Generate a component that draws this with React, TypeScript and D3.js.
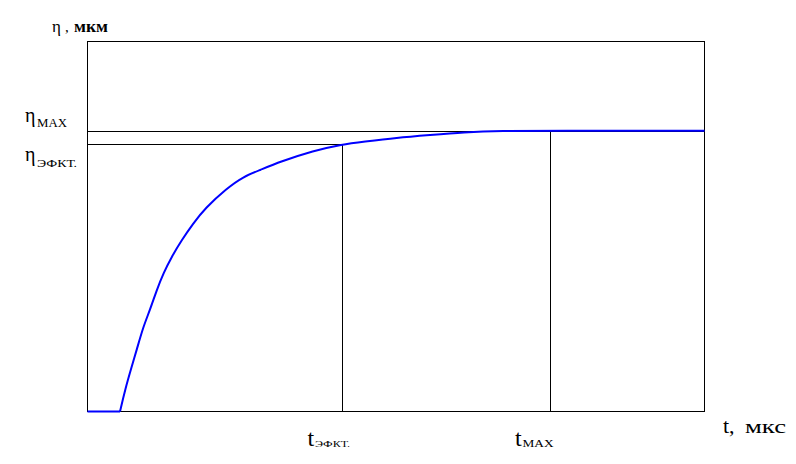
import React from "react";
import * as d3 from "d3";

// curve: t (arb. units 0..10), eta (arb. units 0..10)
const tValues = [0, 0.527, 0.608, 0.716, 0.797, 0.904, 1.013, 1.122, 1.229, 1.365, 1.527, 1.715, 1.904, 2.256, 2.525, 2.796, 3.12, 3.66, 4.13, 4.47, 5.011, 5.551, 6.091, 6.713, 7.496, 10];
const etaValues = [0, 0, 0.581, 1.211, 1.662, 2.292, 2.743, 3.284, 3.735, 4.184, 4.635, 5.086, 5.492, 6.032, 6.346, 6.527, 6.751, 7.049, 7.222, 7.292, 7.4, 7.473, 7.546, 7.585, 7.585, 7.585];

const tMarks = [4.133, 7.496];
const tMarkLabels = ["ЭФКТ.", "MAX"];
const etaMarks = [7.568, 7.216];
const etaMarkLabels = ["MAX", "ЭФКТ."];

const W = 796;
const H = 464;
const FONT = "'Liberation Serif', 'Times New Roman', serif";

export default function App() {
  const x = d3.scaleLinear().domain([0, 10]).range([87.5, 704.5]);
  const y = d3.scaleLinear().domain([0, 10]).range([411.5, 41.5]);

  const pts: [number, number][] = tValues.map((t, i) => [t, etaValues[i]]);
  const lineFlat = d3
    .line<[number, number]>()
    .x((d) => x(d[0]))
    .y((d) => y(d[1]));
  // basis smooths out the small reading errors in the points
  const lineRise = d3
    .line<[number, number]>()
    .x((d) => x(d[0]))
    .y((d) => y(d[1]))
    .curve(d3.curveBasis);

  // height of the curve at a given t (for the drop lines)
  const etaAt = (t: number) => {
    const i = d3.bisectLeft(tValues, t);
    if (i <= 0) return etaValues[0];
    const t0 = tValues[i - 1], t1 = tValues[i];
    const k = (t - t0) / (t1 - t0);
    return etaValues[i - 1] + k * (etaValues[i] - etaValues[i - 1]);
  };

  const px = (v: number) => Math.round(v - 0.5) + 0.5;

  return (
    <svg
      width={W}
      height={H}
      style={{ position: "absolute", left: 0, top: 0, background: "#fff" }}
      fontFamily={FONT}
    >
      {/* frame */}
      <rect
        x={x(0)}
        y={y(10)}
        width={x(10) - x(0)}
        height={y(0) - y(10)}
        fill="none"
        stroke="#000"
        strokeWidth={1}
      />

      {/* eta reference lines */}
      <line x1={x(0)} x2={x(10)} y1={px(y(etaMarks[0]))} y2={px(y(etaMarks[0]))} stroke="#000" />
      <line x1={x(0)} x2={x(tMarks[0])} y1={px(y(etaMarks[1]))} y2={px(y(etaMarks[1]))} stroke="#000" />

      {/* t drop lines */}
      {tMarks.map((t) => (
        <line
          key={t}
          x1={px(x(t))}
          x2={px(x(t))}
          y1={y(0)}
          y2={y(etaAt(t))}
          stroke="#000"
        />
      ))}

      {/* curve: flat start, then the rise */}
      <path d={lineFlat(pts.slice(0, 2)) || ""} fill="none" stroke="#0000ff" strokeWidth={2} />
      <path d={lineRise(pts.slice(1)) || ""} fill="none" stroke="#0000ff" strokeWidth={2} />

      {/* axis titles */}
      <text x={52} y={32} fontSize={17} fill="#000">η</text>
      <text x={65} y={32} fontSize={15} fill="#000">,</text>
      <text x={74} y={32} fontSize={16} fontWeight="bold" textLength={34} lengthAdjust="spacingAndGlyphs" fill="#000">мкм</text>

      <text x={723} y={433} fontSize={22} fill="#000">t,</text>
      <text x={745} y={433} fontSize={19} textLength={41} lengthAdjust="spacingAndGlyphs" fill="#000">мкс</text>

      {/* eta labels */}
      {etaMarks.map((e, i) => (
        <g key={e}>
          <text x={25} y={[122, 161][i]} fontSize={20} fill="#000">η</text>
          <text
            x={37}
            y={[127, 167][i]}
            fontSize={i === 0 ? 13 : 9.5}
            textLength={i === 0 ? 30 : 40}
            lengthAdjust="spacingAndGlyphs"
            fill="#000"
          >
            {etaMarkLabels[i]}
          </text>
        </g>
      ))}

      {/* t labels */}
      {tMarks.map((t, i) => (
        <g key={t}>
          <text x={x(t) - 35} y={446} fontSize={24} fill="#000">t</text>
          <text
            x={x(t) - 27.5}
            y={447}
            fontSize={i === 0 ? 9 : 10.5}
            textLength={i === 0 ? 35 : 31}
            lengthAdjust="spacingAndGlyphs"
            fill="#000"
          >
            {tMarkLabels[i]}
          </text>
        </g>
      ))}
    </svg>
  );
}
